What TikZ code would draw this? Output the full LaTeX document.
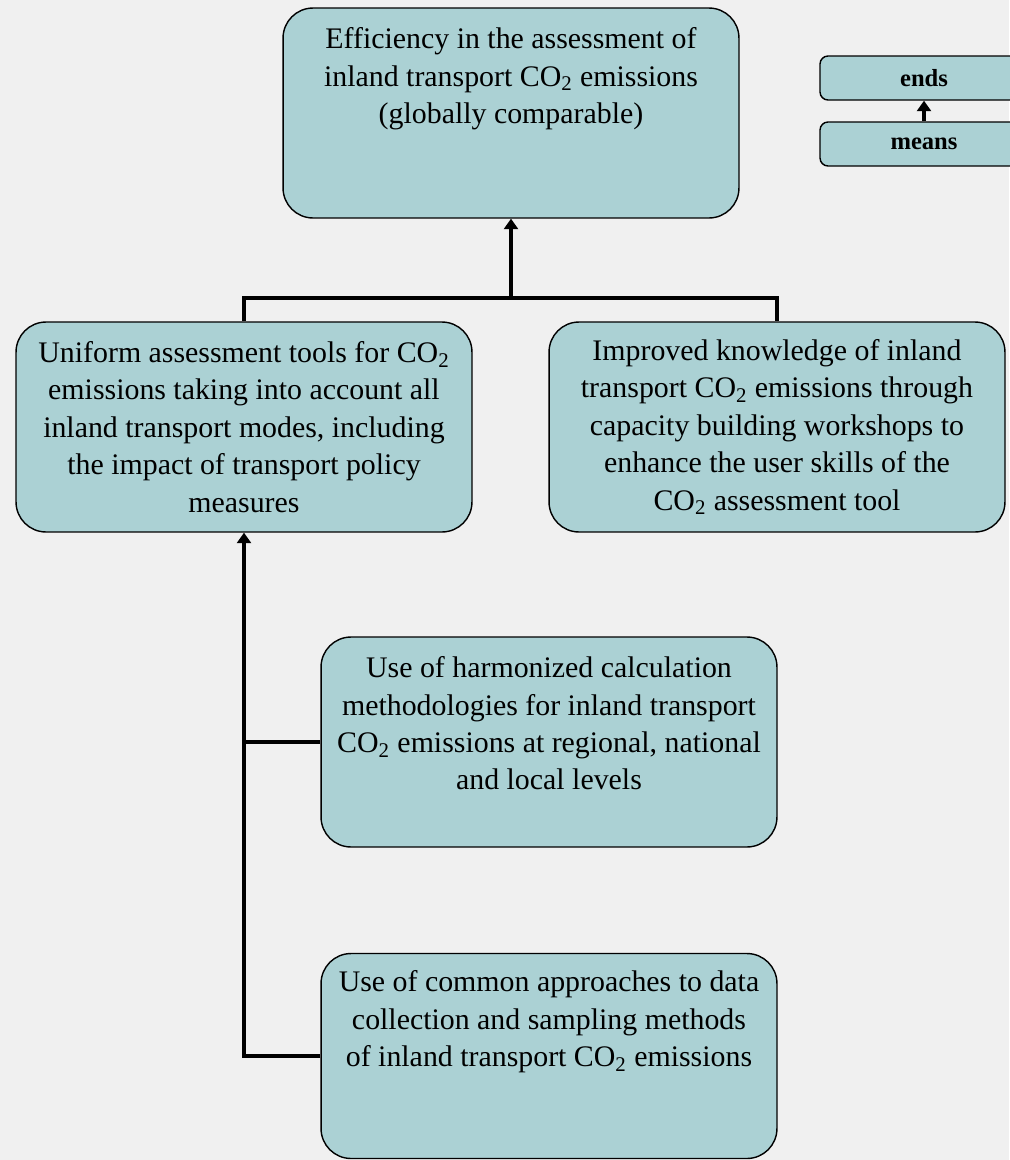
\documentclass[tikz,border=0pt]{standalone}
\usepackage{fontspec}
\setmainfont{Liberation Serif}
\usetikzlibrary{arrows.meta}
\definecolor{boxfill}{HTML}{ABD1D4}
\definecolor{pagebg}{HTML}{F0F0F0}

\begin{document}
\begin{tikzpicture}[x=0.02cm,y=-0.02cm,
        box/.style={draw,line width=0.8pt,fill=boxfill,rounded corners=0.6cm,minimum width=9.12cm,minimum height=4.2cm,align=center,font=\fontsize{17}{21.3}\selectfont},
        keybox/.style={draw,line width=0.8pt,fill=boxfill,rounded corners=0.16cm,minimum width=4.16cm,minimum height=0.88cm,font=\fontsize{14}{16}\selectfont\bfseries},
        link/.style={line width=2.8pt},
        up/.style={link,-{Triangle[length=6pt,width=8pt]}}]
        \fill[pagebg] (0,0) rectangle (1009,1160);
        \useasboundingbox (0,0) rectangle (1009,1160);

        \node(a) at (511,113) [box]{Efficiency in the assessment of\\ inland transport CO\textsubscript{2} emissions\\ (globally comparable)\\ ~\\ ~};
        \node(b) at (244,427) [box]{Uniform assessment tools for CO\textsubscript{2}\\ emissions taking into account all\\ inland transport modes, including\\ the impact of transport policy\\ measures};
        \node(c) at (777,427) [box]{Improved knowledge of inland\\ transport CO\textsubscript{2} emissions through\\ capacity building workshops to\\ enhance the user skills of the\\ CO\textsubscript{2} assessment tool};
        \node(d) at (549,742) [box]{Use of harmonized calculation\\ methodologies for inland transport\\ CO\textsubscript{2} emissions at regional, national\\ and local levels\\ ~};
        \node(e) at (549,1056) [box,minimum height=4.1cm]{Use of common approaches to data\\ collection and sampling methods\\ of inland transport CO\textsubscript{2} emissions\\ ~\\ ~};

        % legend
        \node(k0) at (924,78) [keybox]{ends};
        \node(k1) at (924,144) [keybox]{means};
        \draw[up,line width=2.4pt] (k1) -- (k0);

        % means to ends
        \coordinate(j) at (511,298);
        \draw[link] (b.north) |- (j) -| (c.north);
        \draw[up] (j) -- (a.south);

        \draw[link] (d.west) -- (b.south |- d.west);
        \draw[up] (e.west) -| (b.south);
    \end{tikzpicture}
\end{document}
